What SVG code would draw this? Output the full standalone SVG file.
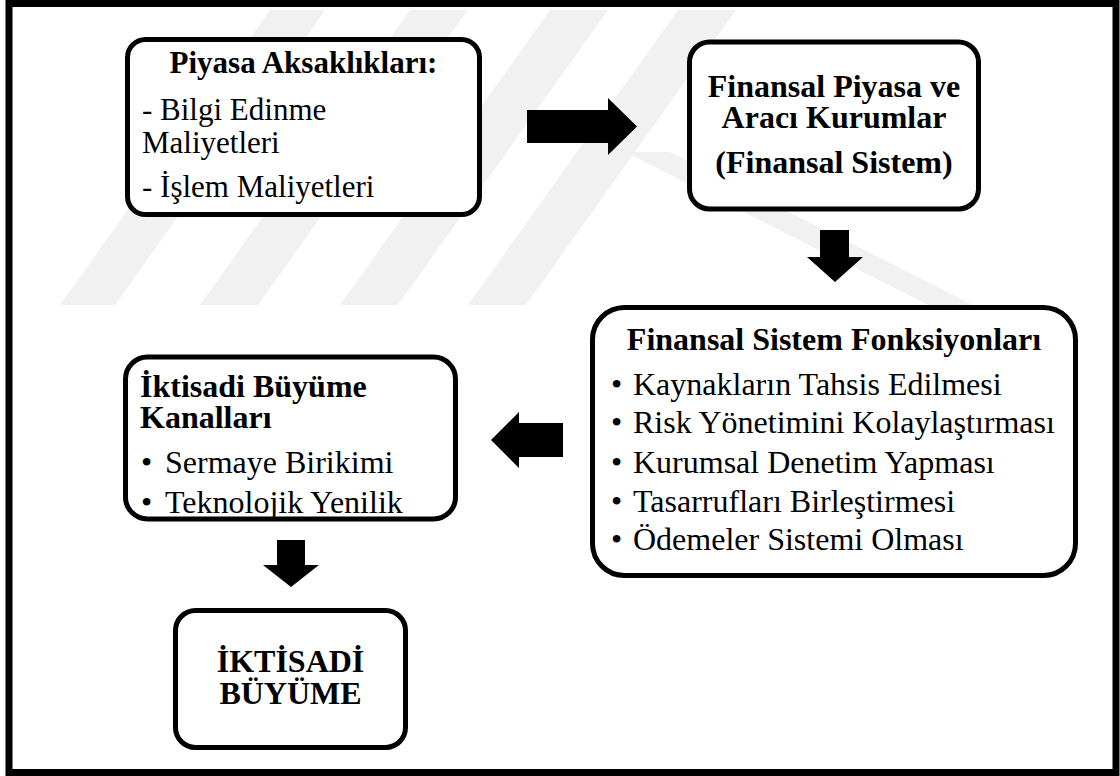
<svg xmlns="http://www.w3.org/2000/svg" width="1120" height="776" viewBox="0 0 1120 776">
<style>
.box{fill:#fff;stroke:#000;stroke-width:5}
.wm{fill:#f1f1f1}
.t{font-family:"Liberation Serif","Times New Roman",serif;font-size:32px;fill:#000}
.b{font-weight:bold}
.arr{fill:#000}
</style>
<rect x="0" y="0" width="1120" height="776" fill="#fff"/>
<g id="watermark">
<polygon class="wm" points="60,305 115,305 325,10 270,10"/>
<polygon class="wm" points="200,305 258,305 468,10 410,10"/>
<polygon class="wm" points="340,305 398,305 608,10 550,10"/>
<polygon class="wm" points="468,305 526,305 736,10 678,10"/>
<polygon class="wm" points="625,152 670,152 973,305 928,305"/>
</g>
<rect id="frame" x="9" y="3.5" width="1107" height="769" fill="none" stroke="#000" stroke-width="7"/>
<g id="connectors">
<polygon class="arr" points="527,110 608,110 608,98 637,126.5 608,155 608,143 527,143"/>
<polygon class="arr" points="820,230 849,230 849,257 863,257 835,282 807,257 820,257"/>
<polygon class="arr" points="563,423 519,423 519,412 491,440 519,468 519,457 563,457"/>
<polygon class="arr" points="277,540 305,540 305,565 319,565 291,587 263,565 277,565"/>
</g>
<g id="piyasa">
<rect class="box" x="127.5" y="39.5" width="352" height="175" rx="18"/>
<text class="t b" x="303.5" y="73" text-anchor="middle" style="font-size:31px">Piyasa Aksaklıkları:</text>
<text class="t" x="142" y="120" style="font-size:31px">- Bilgi Edinme</text>
<text class="t" x="142" y="153" style="font-size:31px">Maliyetleri</text>
<text class="t" x="142" y="197" style="font-size:31px">- İşlem Maliyetleri</text>
</g>
<g id="finansal-piyasa">
<rect class="box" x="689.5" y="42" width="289" height="167" rx="20"/>
<text class="t b" x="834" y="97" text-anchor="middle">Finansal Piyasa ve</text>
<text class="t b" x="834" y="128" text-anchor="middle">Aracı Kurumlar</text>
<text class="t b" x="834" y="173" text-anchor="middle">(Finansal Sistem)</text>
</g>
<g id="fonksiyonlar">
<rect class="box" x="592.5" y="307.5" width="483" height="268" rx="32"/>
<text class="t b" x="834" y="350" text-anchor="middle">Finansal Sistem Fonksiyonları</text>
<text class="t" y="395"><tspan x="611">•</tspan><tspan x="633">Kaynakların Tahsis Edilmesi</tspan></text>
<text class="t" y="433"><tspan x="611">•</tspan><tspan x="633">Risk Yönetimini Kolaylaştırması</tspan></text>
<text class="t" y="473"><tspan x="611">•</tspan><tspan x="633">Kurumsal Denetim Yapması</tspan></text>
<text class="t" y="512"><tspan x="611">•</tspan><tspan x="633">Tasarrufları Birleştirmesi</tspan></text>
<text class="t" y="550"><tspan x="611">•</tspan><tspan x="633">Ödemeler Sistemi Olması</tspan></text>
</g>
<g id="kanallar">
<rect class="box" x="125.5" y="357" width="330" height="162" rx="22"/>
<text class="t b" x="140" y="397">İktisadi Büyüme</text>
<text class="t b" x="140" y="428">Kanalları</text>
<text class="t" y="473"><tspan x="141">•</tspan><tspan x="165">Sermaye Birikimi</tspan></text>
<text class="t" y="513"><tspan x="141">•</tspan><tspan x="165">Teknolojik Yenilik</tspan></text>
</g>
<g id="buyume">
<rect class="box" x="175.5" y="610.5" width="230" height="137" rx="20"/>
<text class="t b" x="290.5" y="672" text-anchor="middle">İKTİSADİ</text>
<text class="t b" x="290.5" y="704" text-anchor="middle">BÜYÜME</text>
</g>
</svg>
